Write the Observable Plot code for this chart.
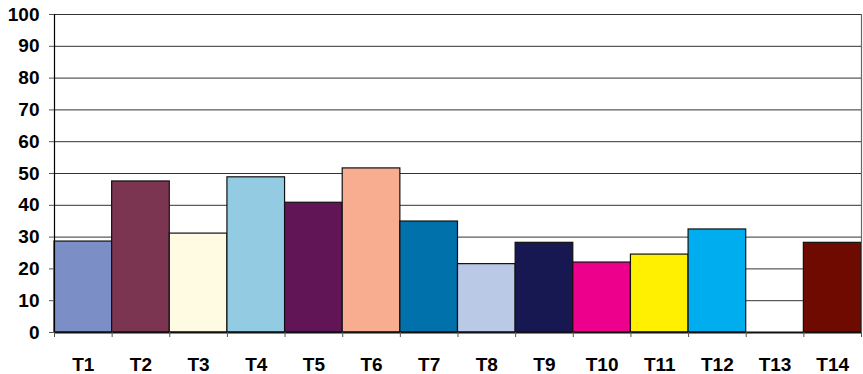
<!DOCTYPE html>
<html>
<head>
<meta charset="utf-8">
<script src="https://cdn.jsdelivr.net/npm/d3@7"></script>
<script src="https://cdn.jsdelivr.net/npm/@observablehq/plot@0.6"></script>
<style>
  html, body { margin: 0; padding: 0; background: #fff; }
  svg { display: block; }
</style>
</head>
<body>
<div id="chart"></div>
<script>
const categories = ["T1","T2","T3","T4","T5","T6","T7","T8","T9","T10","T11","T12","T13","T14"];
const values = [28.6, 47.5, 31.1, 48.8, 40.8, 51.6, 34.9, 21.5, 28.2, 22.0, 24.5, 32.4, 0, 28.2];
const colors = ["#7b8fc6","#7b3550","#fffae2","#93cbe2","#611557","#f8ad90","#0071aa","#b9c9e6","#171752","#ec008c","#ffef00","#00aeef","#ffffff","#6f0a00"];
const yTicks = [0,10,20,30,40,50,60,70,80,90,100];

const data = categories.map((c, i) => ({cat: c, i, value: values[i], color: colors[i]}));
const n = categories.length;
const bounds = d3.range(n + 1);
const centers = d3.range(n).map(i => i + 0.5);

const chart = Plot.plot({
  width: 863,
  height: 374,
  marginLeft: 54,
  marginRight: 2,
  marginTop: 14,
  marginBottom: 42,
  style: {fontFamily: "'Liberation Sans', Arial, sans-serif", fontWeight: "bold", fontSize: "19px", color: "#000", background: "#fff"},
  x: {domain: [0, n], axis: null},
  y: {domain: [0, 100], axis: null},
  marks: [
    Plot.gridY(yTicks, {stroke: "#333", strokeOpacity: 1, strokeWidth: 1}),
    Plot.rect(data.filter(d => d.value > 0), {x1: "i", x2: d => d.i + 1, y1: 0, y2: "value", fill: "color", stroke: "#111", strokeWidth: 1.2}),
    Plot.ruleX([0], {stroke: "#000", strokeWidth: 1.2}),
    Plot.ruleX([n], {stroke: "#666", strokeWidth: 1.2}),
    Plot.ruleY([0], {stroke: "#111", strokeWidth: 2}),
    Plot.axisY({ticks: yTicks, label: null, tickSize: 5, tickPadding: 10, stroke: "#555", fontSize: 19, fontWeight: "bold", tickFormat: d => String(d)}),
    Plot.axisX({ticks: bounds, label: null, tickSize: 5, stroke: "#555", tickFormat: () => ""}),
    Plot.axisX({ticks: centers, label: null, tickSize: 0, tickPadding: 25, fontSize: 19, fontWeight: "bold", tickFormat: d => categories[Math.round(d - 0.5)]})
  ]
});
document.getElementById("chart").appendChild(chart);
</script>
</body>
</html>
